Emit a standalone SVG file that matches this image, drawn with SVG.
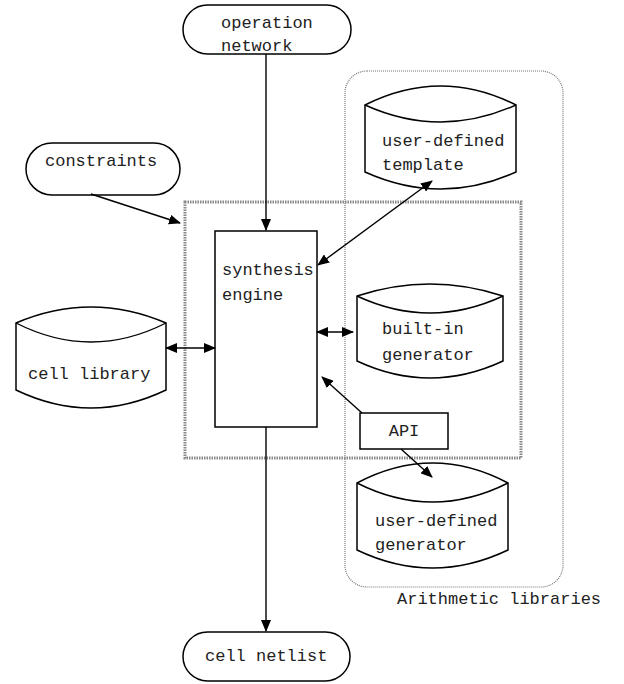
<svg xmlns="http://www.w3.org/2000/svg" width="624" height="684" viewBox="0 0 624 684">
<style>
.n{fill:#fff;stroke:#000;stroke-width:1.5}
.t{font-family:"Liberation Mono","Courier New",monospace;font-size:17px;fill:#222}
.c{fill:none;stroke:#000;stroke-width:1.4}
</style>
<defs>
<marker id="ah" viewBox="0 0 12 10" refX="11" refY="5" markerWidth="12" markerHeight="10" markerUnits="userSpaceOnUse" orient="auto-start-reverse">
<path d="M0,0 L12,5 L0,10 Z" fill="#000"/>
</marker>
</defs>
<rect width="624" height="684" fill="#fff"/>
<g id="arith-libraries">
<rect x="345" y="71" width="218" height="516" rx="22" fill="none" stroke="#777" stroke-width="1.2" stroke-dasharray="1 1"/>
<text class="t" x="397" y="604">Arithmetic libraries</text>
</g>
<g id="core-box">
<rect x="185" y="202" width="336" height="256" fill="none" stroke="#888" stroke-width="3" stroke-dasharray="1.5 1"/>
</g>
<g id="operation-network">
<rect class="n" x="183" y="5" width="168" height="49" rx="24.5"/>
<text class="t" x="221" y="28">operation</text>
<text class="t" x="221" y="51">network</text>
</g>
<g id="constraints">
<rect class="n" x="26" y="143" width="154" height="52" rx="26"/>
<text class="t" x="45" y="166">constraints</text>
</g>
<g id="synthesis-engine">
<rect class="n" x="215" y="231" width="102" height="196"/>
<text class="t" x="222" y="275">synthesis</text>
<text class="t" x="222" y="300">engine</text>
</g>
<g id="cell-library">
<path class="n" d="M16,323 Q91,291 166,323 L166,390 Q91,426 16,390 Z"/>
<path class="c" d="M16,323 Q91,361 166,323"/>
<text class="t" x="28" y="379">cell library</text>
</g>
<g id="user-defined-template">
<path class="n" d="M365,105 Q440.5,67 516,105 L516,172 Q440.5,206 365,172 Z"/>
<path class="c" d="M365,105 Q440.5,139 516,105"/>
<text class="t" x="382" y="146">user-defined</text>
<text class="t" x="382" y="170">template</text>
</g>
<g id="built-in-generator">
<path class="n" d="M357,296 Q430,272 503,296 L503,361 Q430,395 357,361 Z"/>
<path class="c" d="M357,296 Q430,330 503,296"/>
<text class="t" x="382" y="334">built-in</text>
<text class="t" x="382" y="360">generator</text>
</g>
<g id="api">
<rect class="n" x="360" y="413" width="88" height="36"/>
<text class="t" x="404" y="436" text-anchor="middle">API</text>
</g>
<g id="user-defined-generator">
<path class="n" d="M357,483 Q432.5,443 508,483 L508,550 Q432.5,586 357,550 Z"/>
<path class="c" d="M357,483 Q432.5,521 508,483"/>
<text class="t" x="375" y="526">user-defined</text>
<text class="t" x="375" y="550">generator</text>
</g>
<g id="cell-netlist">
<rect class="n" x="183" y="632" width="167" height="49" rx="24.5"/>
<text class="t" x="205" y="661">cell netlist</text>
</g>
<g id="connectors">
<path class="c" d="M266,54 L266,230" marker-end="url(#ah)"/>
<path class="c" d="M91,194 L180,223" marker-end="url(#ah)"/>
<path class="c" d="M318,265 L432,181" marker-start="url(#ah)" marker-end="url(#ah)"/>
<path class="c" d="M166,348 L215,348" marker-start="url(#ah)" marker-end="url(#ah)"/>
<path class="c" d="M317,332 L353,332" marker-start="url(#ah)" marker-end="url(#ah)"/>
<path class="c" d="M362,413 L322,377" marker-end="url(#ah)"/>
<path class="c" d="M401,449 L432,477" marker-end="url(#ah)"/>
<path class="c" d="M266,427 L266,631" marker-end="url(#ah)"/>
</g>
</svg>
